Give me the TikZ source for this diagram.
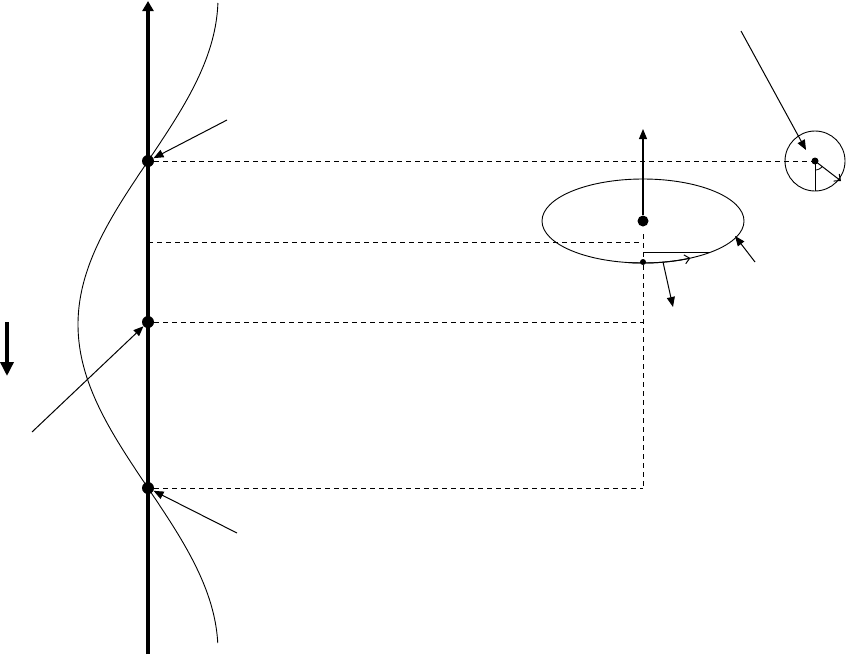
\documentclass[tikz,border=0pt]{standalone}
\usetikzlibrary{arrows.meta}
\begin{document}
\begin{tikzpicture}[x=1pt,y=-1pt,
  thin line/.style={line width=1pt},
  dashline/.style={line width=0.9pt, dash pattern=on 5pt off 4pt},
  ptr/.style={line width=1pt, -{Triangle[length=10pt,width=8pt]}},
  bigdot/.style={circle, fill=black, inner sep=0pt, minimum size=12pt},
  smalldot/.style={circle, fill=black, inner sep=0pt, minimum size=6pt}]
\useasboundingbox (0,0) rectangle (850,654);
% axis
\coordinate (axB) at (148,654);
\coordinate (axT) at (148,1);
\draw[line width=3.4pt, -{Triangle[length=10pt,width=11pt]}] (axB) -- (axT);
% wave
\draw[line width=0.9pt] plot[domain=3:643, samples=160, smooth] ({148-70*sin(0.55046*(\x-161))}, \x);
% dots on axis
\node[bigdot] (p1) at (148,161) {};
\node[bigdot] (p2) at (148,322) {};
\node[bigdot] (p3) at (148,488) {};
% ellipse and its parts
\coordinate (ec) at (643,221);
\draw[line width=0.9pt] (ec) ellipse[x radius=101pt, y radius=42pt];
\node[bigdot, minimum size=11pt] (ed) at (ec) {};
\coordinate (eup) at (643,129);
\draw[line width=1.1pt, -{Triangle[length=10pt,width=8pt]}] (ed) -- (eup);
\node[smalldot, minimum size=6pt] (eb) at (643,262) {};
\coordinate (hz1) at (643,252);
\coordinate (hz2) at (710,252);
\draw[thin line] (hz1) -- (hz2);
\draw[line width=1pt, -{Straight Barb[length=5pt,width=9pt]}] plot[domain=98:62, samples=20, smooth] ({643+101*cos(\x)}, {221+42*sin(\x)});
\coordinate (ef) at (663,262);
\coordinate (eft) at (673,307);
\draw[ptr] (ef) -- (eft);
\coordinate (ein) at (755,262);
\coordinate (eint) at (735,236);
\draw[ptr] (ein) -- (eint);
% circle
\coordinate (cc) at (815,161);
\draw[line width=0.9pt] (cc) circle[radius=30pt];
\node[smalldot, minimum size=7pt] (cd) at (cc) {};
\coordinate (cdown) at (815,191);
\draw[thin line] (cd.center) -- (cdown);
\coordinate (cr) at (841,181);
\draw[line width=1pt, -{Straight Barb[length=5pt,width=9pt]}] (cd.center) -- (cr);
\draw[line width=0.8pt] plot[domain=37:90, samples=20, smooth] ({815+9*cos(\x)}, {161+9*sin(\x)});
\coordinate (cin) at (741,31);
\coordinate (cint) at (806,150);
\draw[ptr] (cin) -- (cint);
% dashed projection lines
\draw[dashline] (p1) -- (cd);
\coordinate (d2a) at (148,242);
\coordinate (d2b) at (640,242);
\draw[dashline] (d2a) -- (d2b);
\coordinate (v3) at (643,322);
\coordinate (v4) at (643,488);
\draw[dashline] (p2) -- (v3);
\draw[dashline] (p3) -- (v4);
\coordinate (vtop) at (643,234);
\draw[dashline] (vtop) -- (eb) -- (v4);
% pointer arrows on the left
\coordinate (a1) at (227,120);
\draw[ptr] (a1) -- (p1);
\coordinate (a2) at (32,432);
\draw[ptr] (a2) -- (p2);
\coordinate (a3) at (237,533);
\draw[ptr] (a3) -- (p3);
% gravity arrow
\coordinate (g1) at (7,322);
\coordinate (g2) at (7,376);
\draw[line width=3.4pt, -{Triangle[length=14pt,width=13pt]}] (g1) -- (g2);
\end{tikzpicture}
\end{document}
